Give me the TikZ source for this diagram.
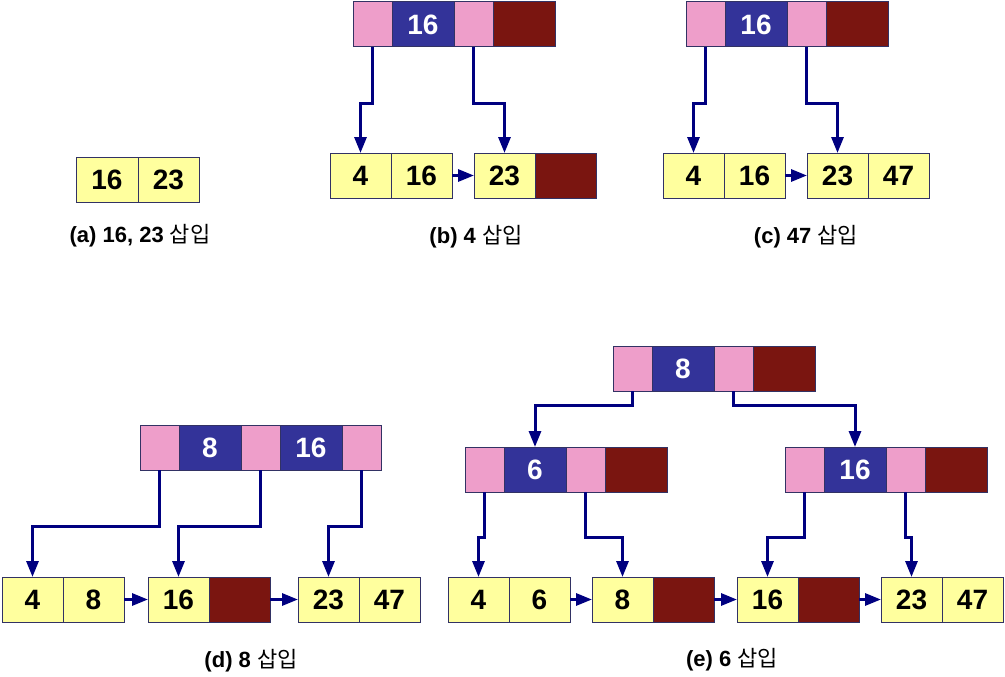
\documentclass[tikz,border=0pt]{standalone}
\usepackage{fontspec}
\setmainfont{Liberation Sans}
\newfontfamily\kr{Noto Sans CJK KR}
\usetikzlibrary{arrows.meta}
\definecolor{pinkc}{RGB}{238,158,202}
\definecolor{bluec}{RGB}{51,51,153}
\definecolor{darkc}{RGB}{122,21,16}
\definecolor{yelc}{RGB}{255,255,158}
\definecolor{edgec}{RGB}{50,50,100}
\definecolor{arrc}{RGB}{0,0,128}
\tikzset{
  cell/.style={draw=edgec, line width=1pt, minimum height=45pt, inner sep=0pt, outer sep=0pt, anchor=north west},
  pk/.style={cell, fill=pinkc, minimum width=39pt},
  bk/.style={cell, fill=bluec, minimum width=62pt, text=white, font=\fontsize{28}{30}\selectfont\bfseries},
  dk/.style={cell, fill=darkc, minimum width=62pt},
  lf/.style={cell, fill=yelc, minimum width=61pt, text=black, font=\fontsize{28}{30}\selectfont\bfseries},
  ld/.style={cell, fill=darkc, minimum width=61pt},
  arr/.style={draw=arrc, line width=3pt, -{Triangle[length=16pt,width=12pt]}},
  captxt/.style={font=\fontsize{22}{26}\selectfont, anchor=center}
}
\begin{document}
\begin{tikzpicture}[x=1pt,y=-1pt]
\useasboundingbox (0,0) rectangle (1005,677);
% ---------- (a)
\node[lf, minimum width=62pt] (a1) at (76,157) {16};
\node[lf] (a2) at (a1.north east) {23};
\node[captxt] (acap) at (140,236) {\textbf{(a) 16, 23} {\kr 삽입}};
% ---------- (b)
\node[pk] (bp1) at (353,2) {};
\node[bk] (bk1) at (bp1.north east) {16};
\node[pk] (bp2) at (bk1.north east) {};
\node[dk] (bd) at (bp2.north east) {};
\node[lf] (bl1) at (330,153) {4};
\node[lf] (bl2) at (bl1.north east) {16};
\node[lf] (bl3) at (474,153) {23};
\node[ld] (bl4) at (bl3.north east) {};
\draw[arr] (bp1.south) -- ++(0,57) -| (bl1.north);
\draw[arr] (bp2.south) -- ++(0,57) -| (bl3.north);
\draw[arr] (bl2.east) -- (bl3.west);
\node[captxt] (bcap) at (476,237) {\textbf{(b) 4} {\kr 삽입}};
% ---------- (c)
\node[pk] (cp1) at (686,2) {};
\node[bk] (ck1) at (cp1.north east) {16};
\node[pk] (cp2) at (ck1.north east) {};
\node[dk] (cd) at (cp2.north east) {};
\node[lf] (cl1) at (663,153) {4};
\node[lf] (cl2) at (cl1.north east) {16};
\node[lf] (cl3) at (807,153) {23};
\node[lf] (cl4) at (cl3.north east) {47};
\draw[arr] (cp1.south) -- ++(0,57) -| (cl1.north);
\draw[arr] (cp2.south) -- ++(0,57) -| (cl3.north);
\draw[arr] (cl2.east) -- (cl3.west);
\node[captxt] (ccap) at (806,237) {\textbf{(c) 47} {\kr 삽입}};
% ---------- (d)
\node[pk] (dp1) at (140,425) {};
\node[bk] (dk1) at (dp1.north east) {8};
\node[pk] (dp2) at (dk1.north east) {};
\node[bk] (dk2) at (dp2.north east) {16};
\node[pk] (dp3) at (dk2.north east) {};
\node[lf] (dl1) at (2,577) {4};
\node[lf] (dl2) at (dl1.north east) {8};
\node[lf] (dl3) at (148,577) {16};
\node[ld] (dl4) at (dl3.north east) {};
\node[lf] (dl5) at (298,577) {23};
\node[lf] (dl6) at (dl5.north east) {47};
\draw[arr] (dp1.south) -- ++(0,56) -| (dl1.north);
\draw[arr] (dp2.south) -- ++(0,56) -| (dl3.north);
\draw[arr] (dp3.south) -- ++(0,56) -| (dl5.north);
\draw[arr] (dl2.east) -- (dl3.west);
\draw[arr] (dl4.east) -- (dl5.west);
\node[captxt] (dcap) at (251,661) {\textbf{(d) 8} {\kr 삽입}};
% ---------- (e)
\node[pk] (ep1) at (613,346) {};
\node[bk] (ek1) at (ep1.north east) {8};
\node[pk] (ep2) at (ek1.north east) {};
\node[dk] (ed) at (ep2.north east) {};
% mid-left
\node[pk] (mp1) at (465,447) {};
\node[bk] (mk1) at (mp1.north east) {6};
\node[pk] (mp2) at (mk1.north east) {};
\node[dk] (md) at (mp2.north east) {};
% mid-right
\node[pk] (np1) at (785,447) {};
\node[bk] (nk1) at (np1.north east) {16};
\node[pk] (np2) at (nk1.north east) {};
\node[dk] (nd) at (np2.north east) {};
% leaves
\node[lf] (el1) at (448,577) {4};
\node[lf] (el2) at (el1.north east) {6};
\node[lf] (el3) at (592,577) {8};
\node[ld] (el4) at (el3.north east) {};
\node[lf] (el5) at (737,577) {16};
\node[ld] (el6) at (el5.north east) {};
\node[lf] (el7) at (881,577) {23};
\node[lf] (el8) at (el7.north east) {47};
\draw[arr] (ep1.south) -- ++(0,14) -| (mk1.north);
\draw[arr] (ep2.south) -- ++(0,14) -| (nk1.north);
\draw[arr] (mp1.south) -- ++(0,45) -| (el1.north);
\draw[arr] (mp2.south) -- ++(0,45) -| (el3.north);
\draw[arr] (np1.south) -- ++(0,45) -| (el5.north);
\draw[arr] (np2.south) -- ++(0,45) -| (el7.north);
\draw[arr] (el2.east) -- (el3.west);
\draw[arr] (el4.east) -- (el5.west);
\draw[arr] (el6.east) -- (el7.west);
\node[captxt] (ecap) at (732,660) {\textbf{(e) 6} {\kr 삽입}};
\end{tikzpicture}
\end{document}
